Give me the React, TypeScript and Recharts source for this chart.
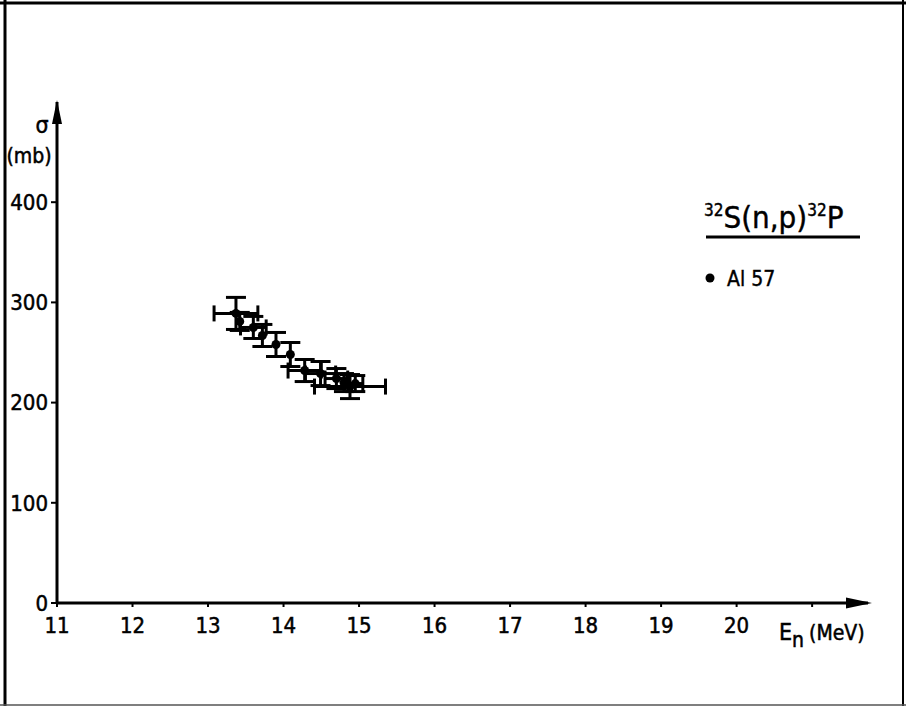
import React from 'react';
import { ScatterChart, Scatter, XAxis, YAxis, ErrorBar } from 'recharts';

// neutron energy (MeV) and cross section (mb)
const energies = [13.37, 13.42, 13.6, 13.72, 13.9, 14.09, 14.28, 14.49, 14.7, 14.8, 14.88, 14.95];
const sigmas = [289, 281, 275, 267, 258, 248, 232, 229, 224, 220, 216, 219];
const sigmaErr = [16, 9, 11, 11, 12, 12, 11, 12, 10, 9, 12, 8];
const energyErr = [0.29, 0, 0.17, 0, 0, 0, 0.22, 0.2, 0.15, 0, 0.47, 0.1];

const xTicks = [11, 12, 13, 14, 15, 16, 17, 18, 19, 20, 21];
const yTicks = [0, 100, 200, 300, 400];

const W = 906;
const H = 706;
const FONT = '"DejaVu Sans Condensed", "DejaVu Sans", Roboto, sans-serif';

const data = energies.map((e, i) => ({
  e,
  s: sigmas[i],
  ds: sigmaErr[i],
  de: energyErr[i],
}));
const withXErr = data.filter((d) => d.de > 0);

const Dot = (props: any) => <circle cx={props.cx} cy={props.cy} r={4.5} fill="#000" />;
const NoDot = () => <g />;

const tickStyle = { fill: '#000', stroke: '#000', strokeWidth: 0.5, fontSize: 22, fontFamily: FONT };

export default function App() {
  return (
    <div style={{ position: 'absolute', left: 0, top: 0, width: W, height: H, background: '#fff' }}>
      <ScatterChart width={W} height={H} margin={{ top: 102, right: 38, left: 0, bottom: 0 }}>
        <XAxis
          type="number"
          dataKey="e"
          domain={[11, 21.74]}
          ticks={xTicks}
          allowDataOverflow
          tickFormatter={(v: number) => (v === 21 ? '' : String(v))}
          height={103}
          tickSize={4}
          tickMargin={10}
          axisLine={{ stroke: '#000', strokeWidth: 3 }}
          tickLine={{ stroke: '#000', strokeWidth: 2 }}
          tick={tickStyle}
        />
        <YAxis
          type="number"
          dataKey="s"
          domain={[0, 500]}
          ticks={yTicks}
          allowDataOverflow
          width={57}
          tickSize={6}
          tickMargin={3}
          axisLine={{ stroke: '#000', strokeWidth: 3 }}
          tickLine={{ stroke: '#000', strokeWidth: 2 }}
          tick={tickStyle}
        />
        <Scatter data={withXErr} shape={NoDot} isAnimationActive={false}>
          <ErrorBar dataKey="de" direction="x" width={8} stroke="#000" strokeWidth={3} />
        </Scatter>
        <Scatter data={data} shape={Dot} isAnimationActive={false}>
          <ErrorBar dataKey="ds" direction="y" width={10} stroke="#000" strokeWidth={3} />
        </Scatter>
      </ScatterChart>
      <svg
        width={W}
        height={H}
        style={{ position: 'absolute', left: 0, top: 0, pointerEvents: 'none' }}
        fontFamily={FONT}
      >
        {/* frame */}
        <line x1={5} y1={0} x2={5} y2={H} stroke="#000" strokeWidth={3} />
        <line x1={0} y1={3} x2={W} y2={3} stroke="#000" strokeWidth={3} />
        <line x1={W - 3} y1={0} x2={W - 3} y2={H} stroke="#000" strokeWidth={2} />
        <line x1={0} y1={H - 1} x2={W} y2={H - 1} stroke="#555" strokeWidth={1.5} />
        {/* axis arrows */}
        <path d="M57 100 L52 124 L62 124 Z" fill="#000" />
        <path d="M872 603 L846 597.5 L846 608.5 Z" fill="#000" />
        {/* axis titles */}
        <text x={42} y={133} fontSize={23} textAnchor="middle" fill="#000" stroke="#000" strokeWidth={0.5}>σ</text>
        <text x={29} y={163} fontSize={21} textAnchor="middle" fill="#000" stroke="#000" strokeWidth={0.5}>(mb)</text>
        <text x={779} y={640} fontSize={23} fill="#000" stroke="#000" strokeWidth={0.5}>
          E<tspan dy={7} fontSize={21}>n</tspan>
          <tspan dy={-7} dx={5} fontSize={21}>(MeV)</tspan>
        </text>
        {/* reaction and legend */}
        <text x={704} y={228} fontSize={31} fill="#000" stroke="#000" strokeWidth={0.4}>
          <tspan dy={-12} fontSize={17}>32</tspan>
          <tspan dy={12}>S(n,p)</tspan>
          <tspan dy={-12} fontSize={17}>32</tspan>
          <tspan dy={12}>P</tspan>
        </text>
        <line x1={706} y1={237} x2={860} y2={237} stroke="#000" strokeWidth={3} />
        <circle cx={710} cy={278} r={4.5} fill="#000" />
        <text x={727} y={286} fontSize={21} fill="#000" stroke="#000" strokeWidth={0.4}>Al 57</text>
      </svg>
    </div>
  );
}
